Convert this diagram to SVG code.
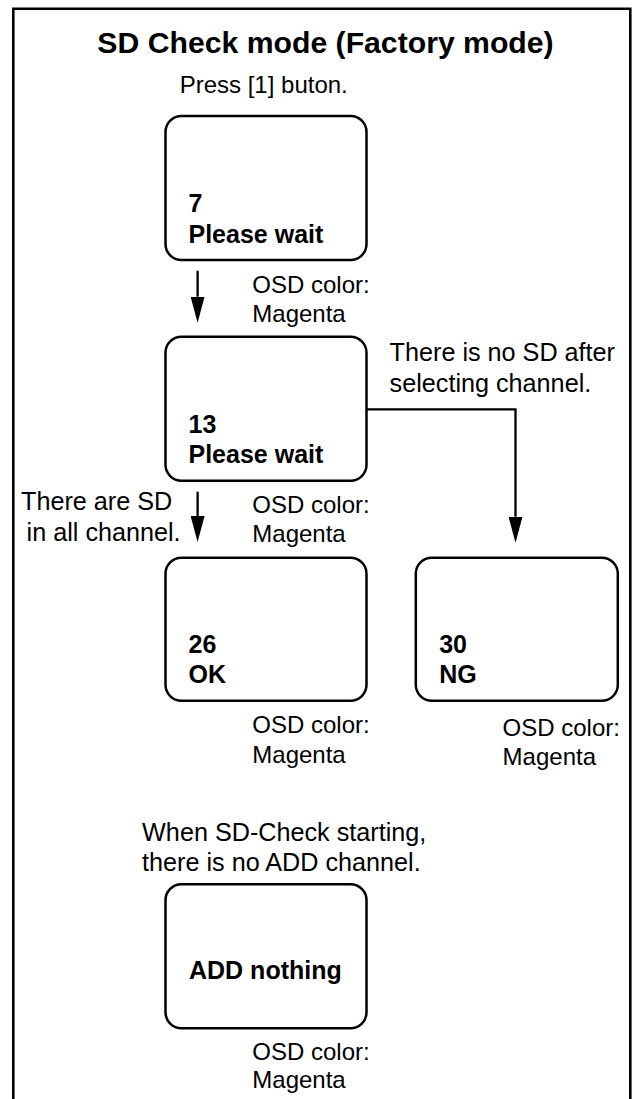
<svg xmlns="http://www.w3.org/2000/svg" width="633" height="1099" viewBox="0 0 633 1099">
<defs>
<style>
.frame{fill:none;stroke:#000;stroke-width:2.6}
.box{fill:#fff;stroke:#000;stroke-width:2.5}
.t{font-family:"Liberation Sans",Arial,Helvetica,sans-serif;font-size:24px;fill:#000}
.t2{font-family:"Liberation Sans",Arial,Helvetica,sans-serif;font-size:25.2px;fill:#000}
.b{font-family:"Liberation Sans",Arial,Helvetica,sans-serif;font-size:25px;font-weight:bold;fill:#000}
.title{font-family:"Liberation Sans",Arial,Helvetica,sans-serif;font-size:30.2px;font-weight:bold;fill:#000}
.conn{fill:none;stroke:#000;stroke-width:2.3}
</style>
<marker id="arr" markerWidth="26" markerHeight="14" viewBox="0 0 26 14" refX="0" refY="7" orient="auto" markerUnits="userSpaceOnUse">
<path d="M0,0 L26,7 L0,14 z" fill="#000"/>
</marker>
</defs>
<rect width="633" height="1099" fill="#fff"/>
<path class="frame" d="M13.3,1105 V8.7 H630.3 V1105"/>
<g id="title">
<text class="title" x="325.5" y="53.3" text-anchor="middle">SD Check mode (Factory mode)</text>
<text class="t" x="179.7" y="93.3">Press [1] buton.</text>
</g>
<g id="node-7">
<rect class="box" x="165.5" y="116" width="201" height="144" rx="16" ry="16"/>
<text class="b" x="188.5" y="211.7">7</text>
<text class="b" x="188.5" y="243.3">Please wait</text>
<text class="t" x="252.3" y="292.7">OSD color:</text>
<text class="t" x="252.3" y="322">Magenta</text>
</g>
<g id="node-13">
<rect class="box" x="165.5" y="336.7" width="201" height="144" rx="16" ry="16"/>
<text class="b" x="188.5" y="432.7">13</text>
<text class="b" x="188.5" y="463.3">Please wait</text>
<text class="t" x="252.3" y="512.7">OSD color:</text>
<text class="t" x="252.3" y="541.7">Magenta</text>
</g>
<g id="node-26">
<rect class="box" x="165.5" y="557.7" width="201" height="143" rx="16" ry="16"/>
<text class="b" x="188.5" y="652.7">26</text>
<text class="b" x="188.5" y="683.3">OK</text>
<text class="t" x="252.3" y="732.7">OSD color:</text>
<text class="t" x="252.3" y="762.7">Magenta</text>
</g>
<g id="node-30">
<rect class="box" x="415.8" y="557.7" width="202" height="143" rx="16" ry="16"/>
<text class="b" x="439.2" y="652.7">30</text>
<text class="b" x="439.2" y="683.3">NG</text>
<text class="t" x="502.6" y="736">OSD color:</text>
<text class="t" x="502.6" y="765">Magenta</text>
</g>
<g id="node-add">
<text class="t2" x="142.1" y="840.7">When SD-Check starting,</text>
<text class="t2" x="142.1" y="871">there is no ADD channel.</text>
<rect class="box" x="165.5" y="884.3" width="201" height="144" rx="16" ry="16"/>
<text class="b" x="189" y="979.3">ADD nothing</text>
<text class="t" x="252.3" y="1060">OSD color:</text>
<text class="t" x="252.3" y="1088.3">Magenta</text>
</g>
<g id="connectors">
<path class="conn" d="M197.6,270.7 V296.7" marker-end="url(#arr)"/>
<path class="conn" d="M197.6,491.7 V516" marker-end="url(#arr)"/>
<path class="conn" d="M366.6,409.3 H515.5 V516.7" marker-end="url(#arr)"/>
<text class="t2" x="21" y="510">There are SD</text>
<text class="t2" x="26.6" y="540.7">in all channel.</text>
<text class="t2" x="389.6" y="360.7">There is no SD after</text>
<text class="t2" x="389.6" y="391.7">selecting channel.</text>
</g>
</svg>
